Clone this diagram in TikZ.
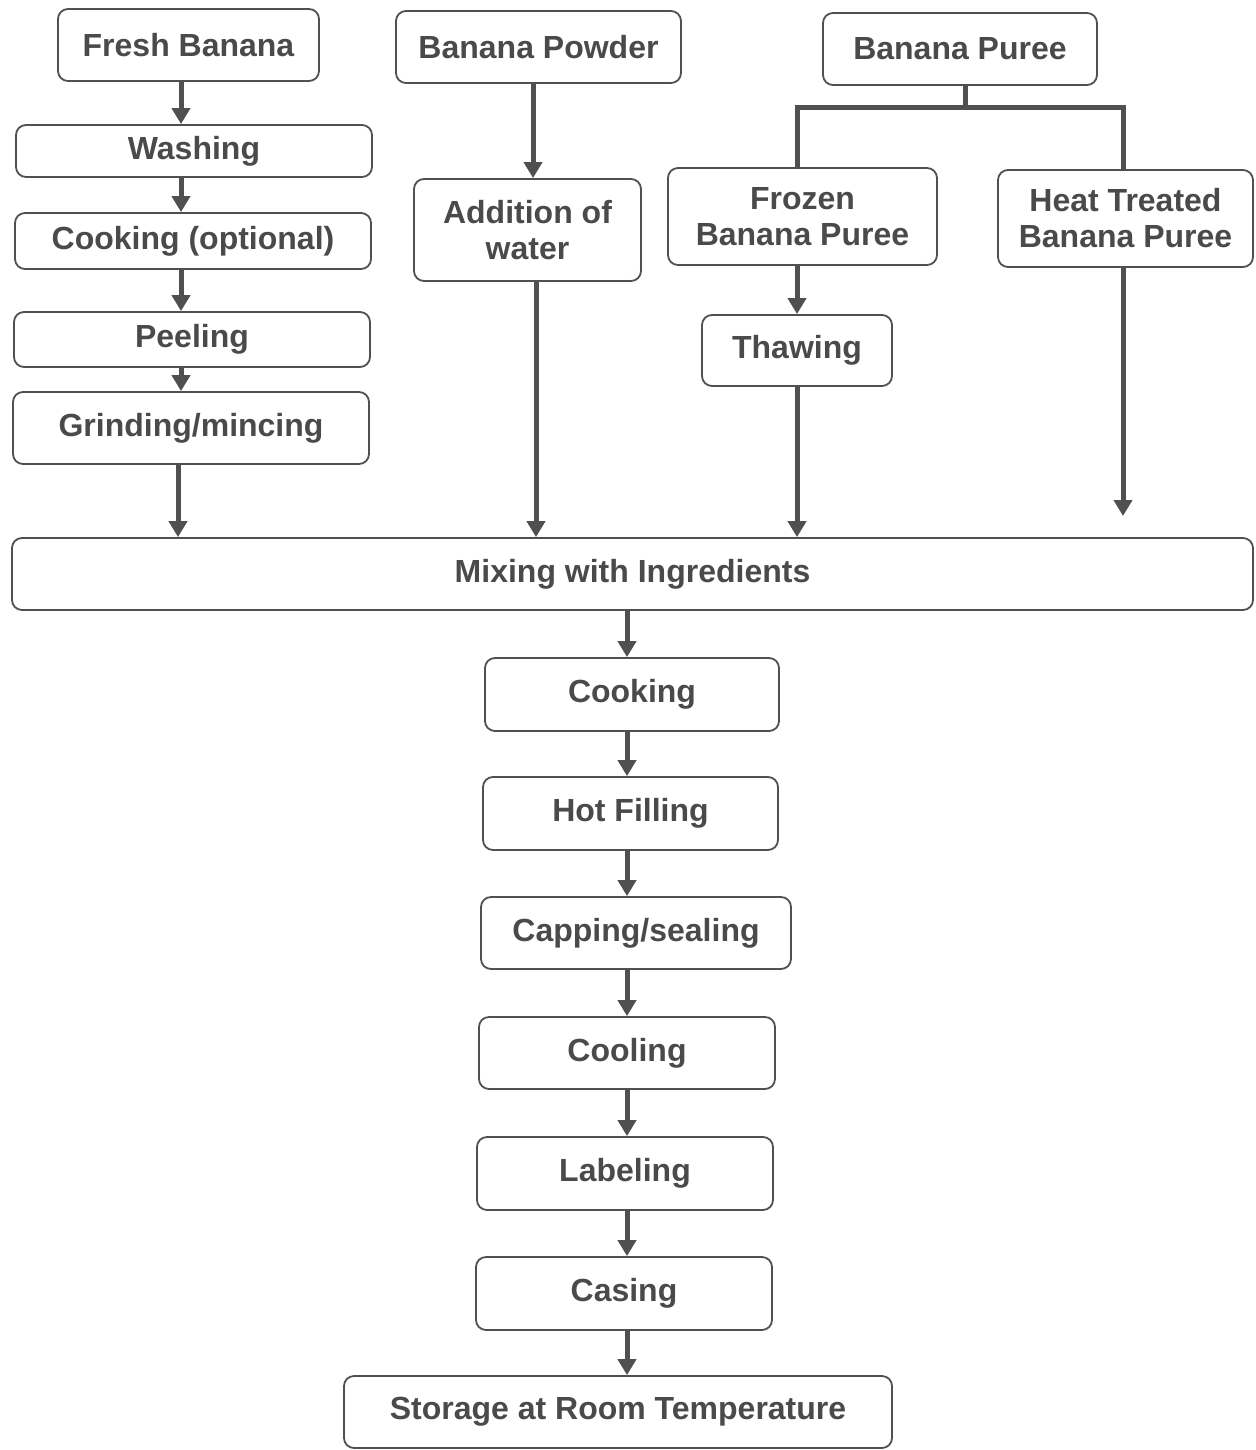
\documentclass[tikz,border=0pt]{standalone}
\usepackage{fontspec}
\setmainfont{Liberation Sans}
\usetikzlibrary{arrows.meta}
\definecolor{ink}{HTML}{4A4A4A}
\definecolor{edge}{HTML}{505050}
\begin{document}
\begin{tikzpicture}[x=1pt,y=-1pt,
  box/.style={draw=edge, line width=1.8pt, rounded corners=10pt, inner sep=0pt,
    align=center, text=ink, font=\fontsize{32}{36}\selectfont\bfseries},
  arr/.style={draw=edge, line width=5pt, -{Triangle[width=18pt,length=16pt]}},
  ln/.style={draw=edge, line width=5pt}]
\useasboundingbox (0,0) rectangle (1255,1450);
\node[box, minimum width=261, minimum height=72] (fresh) at (188.5,45) {Fresh Banana};
\node[box, minimum width=356, minimum height=52] (wash) at (194,151) {Washing};
\node[box, minimum width=356, minimum height=56] (cookopt) at (193,241) {Cooking (optional)};
\node[box, minimum width=356, minimum height=55] (peel) at (192,339.5) {Peeling};
\node[box, minimum width=356, minimum height=72] (grind) at (191,428) {Grinding/mincing};
\node[box, minimum width=285, minimum height=72] (powder) at (538.5,47) {Banana Powder};
\node[box, minimum width=227, minimum height=102] (water) at (527.5,230) {Addition of\\water};
\node[box, minimum width=274, minimum height=72] (puree) at (960,49) {Banana Puree};
\node[box, minimum width=269, minimum height=97] (frozen) at (802.5,216.5) {Frozen\\Banana Puree};
\node[box, minimum width=255, minimum height=97] (heat) at (1125.5,218.5) {Heat Treated\\Banana Puree};
\node[box, minimum width=190, minimum height=71] (thaw) at (797,350.5) {Thawing};
\node[box, minimum width=1241, minimum height=72] (mix) at (632.5,574) {Mixing with Ingredients};
\node[box, minimum width=294, minimum height=73] (cook) at (632,694.5) {Cooking};
\node[box, minimum width=295, minimum height=73] (hot) at (630.5,813.5) {Hot Filling};
\node[box, minimum width=310, minimum height=72] (cap) at (636,933) {Capping/sealing};
\node[box, minimum width=296, minimum height=72] (cool) at (627,1053) {Cooling};
\node[box, minimum width=296, minimum height=73] (label) at (625,1173.5) {Labeling};
\node[box, minimum width=296, minimum height=73] (casing) at (624,1293.5) {Casing};
\node[box, minimum width=548, minimum height=72] (storage) at (618,1412) {Storage at Room Temperature};
% x positions of the connectors
\coordinate (xa) at (181,0);
\coordinate (xb) at (178,0);
\coordinate (xc) at (533,0);
\coordinate (xd) at (536,0);
\coordinate (xe) at (797,0);
\coordinate (xf) at (965,0);
\coordinate (xg) at (1123,0);
\coordinate (xm) at (627,0);
\coordinate (yt) at (0,108);
\coordinate (heatend) at (1123,516);
% left column
\draw[arr] (fresh.south -| xa) -- (wash.north -| xa);
\draw[arr] (wash.south -| xa) -- (cookopt.north -| xa);
\draw[arr] (cookopt.south -| xa) -- (peel.north -| xa);
\draw[arr] (peel.south -| xa) -- (grind.north -| xa);
\draw[arr] (grind.south -| xb) -- (mix.north -| xb);
% powder column
\draw[arr] (powder.south -| xc) -- (water.north -| xc);
\draw[arr] (water.south -| xd) -- (mix.north -| xd);
% puree tree
\draw[ln] (puree.south -| xf) -- (xf |- yt);
\draw[ln, line cap=rect] (xe |- yt) -- (xg |- yt);
\draw[ln] (xe |- yt) -- (frozen.north -| xe);
\draw[ln] (xg |- yt) -- (heat.north -| xg);
\draw[arr] (frozen.south -| xe) -- (thaw.north -| xe);
\draw[arr] (thaw.south -| xe) -- (mix.north -| xe);
\draw[arr] (heat.south -| xg) -- (heatend);
% main column
\draw[arr] (mix.south -| xm) -- (cook.north -| xm);
\draw[arr] (cook.south -| xm) -- (hot.north -| xm);
\draw[arr] (hot.south -| xm) -- (cap.north -| xm);
\draw[arr] (cap.south -| xm) -- (cool.north -| xm);
\draw[arr] (cool.south -| xm) -- (label.north -| xm);
\draw[arr] (label.south -| xm) -- (casing.north -| xm);
\draw[arr] (casing.south -| xm) -- (storage.north -| xm);
\end{tikzpicture}
\end{document}
